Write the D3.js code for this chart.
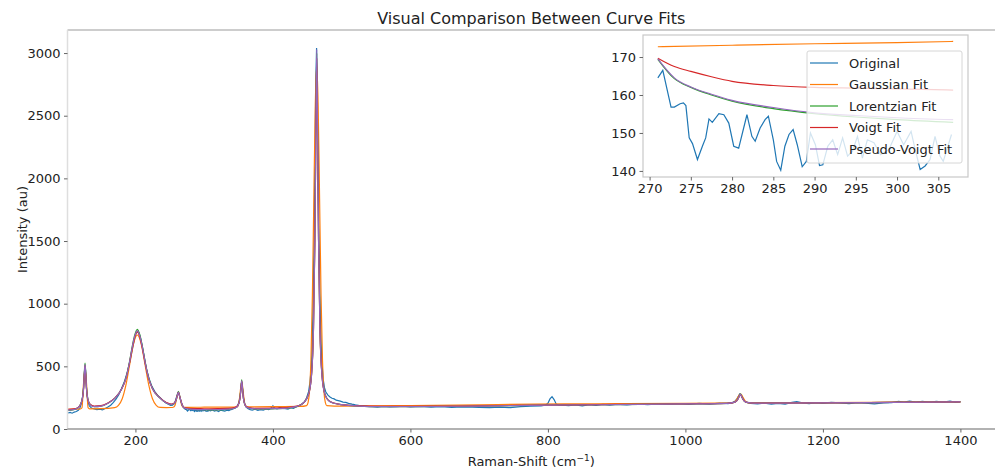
<!DOCTYPE html>
<html>
<head>
  <meta charset="utf-8">
  <style>
    body { margin: 0; background: #fff; }
    text { font-family: "DejaVu Sans", sans-serif; fill: #222; }
    .tick-label { font-size: 13px; }
    .axis-label { font-size: 13px; }
    .title { font-size: 16px; }
    .legend-text { font-size: 13px; }
  </style>
  <title>Visual Comparison Between Curve Fits</title>
</head>
<body>
<script src="https://cdn.jsdelivr.net/npm/d3@7"></script>
<script>
// ---- data ----
const seriesNames = ["Original", "Gaussian Fit", "Lorentzian Fit", "Voigt Fit", "Pseudo-Voigt Fit"];
const seriesColors = ["#1f77b4", "#ff7f0e", "#2ca02c", "#d62728", "#9467bd"];

const xTicks = [200, 400, 600, 800, 1000, 1200, 1400];
const yTicks = [0, 500, 1000, 1500, 2000, 2500, 3000];
const insetXTicks = [270, 275, 280, 285, 290, 295, 300, 305];
const insetYTicks = [140, 150, 160, 170];
const insetRange = [271, 306.8];

// measured spectrum [raman shift, intensity]
const original = [
  [102,128],[105,132],[108,126],[111,135],[114,140],[117,150],[119.5,172],[121.5,205],[123,250],[124.5,330],
  [125.5,430],[126.5,500],[127.5,470],[128.5,360],[129.5,270],[131,215],[133,185],[136,168],[140,160],[144,155],
  [148,158],[152,152],[156,163],[160,175],[164,190],[168,212],[172,240],[176,275],[180,325],[184,380],
  [188,450],[192,540],[196,650],[199,730],[201,765],[203,778],[205,770],[207,735],[210,660],[213,570],
  [216,480],[220,400],[224,340],[228,300],[232,270],[236,250],[240,228],[244,210],[248,198],[251,188],
  [254,190],[256,200],[258,222],[260,260],[261.5,285],[262.5,292],[263.5,280],[265,245],[267,205],[269,180],
  [271,164.5],[271.6,166.5],[272.6,156.8],[273,156.8],[273.7,157.7],[274.1,157.9],[274.4,157.2],[274.8,148.7],
  [275.2,147.2],[275.8,143],[276.4,146.5],[276.8,148.7],[277.2,153.7],[277.6,152.8],[278.4,155.1],[279,154.8],
  [279.6,152.6],[280.2,146.5],[280.8,146],[281.8,154.8],[282.4,149.1],[282.8,147.8],[283.4,151.3],[284,153.5],
  [284.4,154.4],[285,148.2],[285.4,142.5],[285.9,140.2],[286.4,146.5],[286.9,149.6],[287.4,150.9],[287.9,146.9],
  [288.5,141.1],[289,142.5],[289.5,150],[290.1,146.9],[290.6,141.4],[291,141.6],[291.6,146.5],[292.2,148.2],
  [292.8,144.3],[293.4,148.7],[294,143.9],[294.6,145.2],[295.2,149.1],[295.8,143.4],[296.4,148.2],[297.2,147.4],
  [298,144.3],[299,145.6],[300,150.4],[300.8,146.9],[301.7,150.4],[302.2,145.6],[302.8,140.4],[303.4,141.3],
  [304,143],[304.6,149.1],[305.2,143.9],[305.6,142.5],[306.6,149.6],
  [309,145],[312,152],[315,143],[318,148],[321,140],[324,151],[327,146],[330,142],[333,150],[336,147],
  [339,155],[342,160],[345,168],[348,182],[350,205],[352,250],[353.5,320],[354.5,375],[355.5,340],[357,260],
  [359,200],[361,175],[364,162],[367,155],[370,150],[374,158],[378,148],[382,155],[386,150],[390,160],
  [394,155],[398,170],[400,185],[402,168],[406,160],[410,172],[414,165],[418,163],[422,158],[426,170],
  [430,165],[434,178],[438,185],[442,200],[446,218],[449,250],[452,300],[454,380],[456,500],[458,900],
  [460,1600],[461.5,2300],[462.5,2800],[463.5,3040],[464.5,2750],[465.5,2200],[467,1500],[469,900],[471,560],[473,400],
  [475,330],[477,295],[480,270],[483,255],[486,245],[489,240],[492,230],[495,226],[498,222],[502,215],
  [506,212],[510,205],[515,198],[520,192],[526,186],[532,184],[538,180],[545,178],[552,175],[560,180],
  [570,176],[580,178],[590,182],[600,176],[615,180],[630,175],[645,178],[660,172],[675,176],[690,174],
  [700,172],[715,170],[730,175],[745,171],[760,178],[775,182],[790,185],[796,190],[800,205],[803,240],
  [806,258],[809,235],[812,200],[816,188],[822,190],[830,186],[840,192],[850,185],[860,195],[870,188],
  [880,196],[890,190],[900,198],[915,192],[930,200],[945,194],[960,201],[975,196],[990,203],[1005,197],
  [1020,205],[1035,199],[1050,206],[1062,203],[1068,210],[1072,222],[1075,240],[1077,262],[1079,280],[1081,270],
  [1083,245],[1086,222],[1090,210],[1095,205],[1105,200],[1115,207],[1125,199],[1135,204],[1145,198],[1155,212],
  [1162,218],[1170,208],[1180,203],[1190,210],[1200,205],[1212,212],[1225,208],[1238,203],[1250,210],[1262,206],
  [1275,201],[1288,208],[1300,211],[1310,220],[1318,214],[1326,222],[1335,215],[1345,221],[1355,213],[1365,220],
  [1375,214],[1385,222],[1393,212],[1400,219]
];

const gaussianFit = [
  [102,157],[112,159],[120,160],[122.3,170],[124.5,360],[126.7,480],[128.9,360],[131.1,170],[133.4,161],
  [150,162],[169.8,170],[175.3,189],[180.8,242],[186.3,354],[191.8,519],[197.3,681],[202.8,750],[208.3,681],
  [213.8,519],[219.3,354],[224.8,242],[230.3,189],[235.8,172],[245,171],[252,171.5],[255,173.3],[257.5,188],
  [260,244],[261.25,276],[262.5,290],[263.75,276],[265,244],[267.5,188],[270,173.3],[271,172.7],[280,173.1],
  [290,173.5],[300,173.8],[306.8,174.1],[320,174.5],[340,175],[348,177],[350.2,201],[352.4,293],[353.5,347],
  [354.6,370],[355.7,347],[356.8,293],[359,201],[361.2,177],[400,178],[440,180],[449,187],[451.1,211],
  [453.2,300],[455.3,548],[457.4,1064],[459.5,1831],[461.6,2580],[463.7,2900],[465.8,2580],[467.9,1831],
  [470,1064],[472.1,548],[474.2,300],[476.3,211],[478.4,187],[500,183],[600,187],[700,193],[780,199],
  [830,200],[900,202],[1000,205],[1060,207],[1068,209],[1072,217.5],[1076,250],[1078,270],[1080,278],
  [1082,270],[1084,250],[1088,217.5],[1092,209],[1200,211],[1300,214],[1400,217]
];

const lorentzianFit = [
  [102,149],[110,154],[116,168],[119.5,191],[122.7,245],[124.7,338],[125.7,450],[126.7,525],[127.7,450],
  [128.7,338],[130.7,245],[134,196],[140,178],[150,182],[160,205],[170,246],[180,322],[186,404],[191,526],
  [195,648],[199,750],[202.8,795],[206.5,750],[210.5,648],[214.5,526],[219.5,403],[225,321],[235,250],
  [245,207],[252,195],[256,202],[259,229],[261,271],[262.5,300],[264,271],[266,229],[268,192],[271,169.4],
  [273,164.3],[275,162],[277.5,160],[280,158.4],[285,156.4],[290,155.1],[295,154.2],[300,153.5],[306.8,152.8],
  [320,153],[335,157],[345,168],[349,186],[352,243],[353.6,335],[354.6,392],[355.6,335],[357.2,243],[360,186],
  [364,168],[375,159],[400,161],[420,166],[435,179],[445,210],[452,282],[456,425],[459,810],[461,1510],
  [462.7,2480],[463.7,3000],[464.7,2480],[466.4,1510],[468.4,810],[471.5,425],[475.5,282],[482.5,220],
  [495,198],[520,185],[560,178],[600,178],[700,183],[800,190],[900,195],[1000,200],[1060,205],[1072,215],
  [1076,236],[1078,260],[1080,281],[1082,260],[1084,236],[1088,215],[1100,207],[1200,208],[1300,212],[1400,216]
];

const voigtFit = [
  [102,157],[110,160],[116,170],[119.5,190],[122.7,238],[124.7,326],[125.7,432],[126.7,505],[127.7,432],
  [128.7,326],[130.7,238],[134,197],[140,182],[150,186],[160,208],[170,247],[180,320],[186,398],[191,515],
  [195,632],[199,730],[202.8,775],[206.5,730],[210.5,632],[214.5,515],[219.5,398],[225,320],[235,252],
  [245,212],[252,199],[256,205],[259,230],[261,268],[262.5,292],[264,268],[266,230],[268,194],[271,169.7],
  [273,167.5],[275,166.2],[277.5,164.8],[280,163.6],[285,162.5],[290,162],[295,161.8],[300,161.6],[306.8,161.3],
  [320,162],[335,164],[345,172],[349,188],[352,240],[353.6,326],[354.6,380],[355.6,326],[357.2,240],[360,188],
  [364,172],[375,165],[400,166],[420,170],[435,182],[445,211],[452,280],[456,418],[459,795],[461,1490],
  [462.7,2460],[463.7,2960],[464.7,2460],[466.4,1490],[468.4,795],[471.5,418],[475.5,280],[482.5,221],
  [495,199],[520,186],[560,180],[600,180],[700,185],[800,191],[900,196],[1000,201],[1060,205],[1072,215],
  [1076,234],[1078,256],[1080,275],[1082,256],[1084,234],[1088,215],[1100,207],[1200,208],[1300,212],[1400,216]
];

const pseudoVoigtFit = [
  [102,150],[110,155],[116,168],[119.5,190],[122.7,241],[124.7,332],[125.7,442],[126.7,515],[127.7,442],
  [128.7,332],[130.7,241],[134,195],[140,178],[150,182],[160,205],[170,245],[180,320],[186,400],[191,520],
  [195,640],[199,740],[202.8,785],[206.5,740],[210.5,640],[214.5,520],[219.5,400],[225,320],[235,250],
  [245,208],[252,196],[256,202],[259,228],[261,268],[262.5,295],[264,268],[266,228],[268,192],[271,169.5],
  [273,164.5],[275,162.1],[277.5,160.2],[280,158.6],[285,156.7],[290,155.3],[295,154.6],[300,154],[306.8,153.5],
  [320,154],[335,158],[345,168],[349,185],[352,240],[353.6,330],[354.6,385],[355.6,330],[357.2,240],[360,185],
  [364,168],[375,160],[400,162],[420,167],[435,180],[445,210],[452,280],[456,420],[459,800],[461,1500],
  [462.7,2500],[463.7,3030],[464.7,2500],[466.4,1500],[468.4,800],[471.5,420],[475.5,280],[482.5,220],
  [495,198],[520,185],[560,178],[600,178],[700,183],[800,190],[900,195],[1000,200],[1060,205],[1072,215],
  [1076,235],[1078,258],[1080,278],[1082,258],[1084,235],[1088,215],[1100,207],[1200,208],[1300,212],[1400,216]
];

const allSeries = [original, gaussianFit, lorentzianFit, voigtFit, pseudoVoigtFit];

// ---- layout ----
const W = 995, H = 469;
const main = { left: 67.5, right: 1000, top: 30, bottom: 429 };
const inset = { left: 643, right: 968, top: 35, bottom: 177 };

const svg = d3.select("body").append("svg")
  .attr("width", W)
  .attr("height", H);

// main scales
const x = d3.scaleLinear().domain([101.2, 1457.6]).range([main.left, main.right]);
const y = d3.scaleLinear().domain([0, 3184]).range([main.bottom, main.top]);

svg.append("clipPath").attr("id", "mainClip")
  .append("rect")
  .attr("x", main.left).attr("y", main.top)
  .attr("width", main.right - main.left).attr("height", main.bottom - main.top);

const plot = svg.append("g").attr("clip-path", "url(#mainClip)");

const lineMain = d3.line().x(d => x(d[0])).y(d => y(d[1]));
const lineMainSmooth = d3.line().x(d => x(d[0])).y(d => y(d[1])).curve(d3.curveMonotoneX);

allSeries.forEach((s, i) => {
  plot.append("path")
    .datum(s)
    .attr("fill", "none")
    .attr("stroke", seriesColors[i])
    .attr("stroke-width", 1.2)
    .attr("d", i === 0 ? lineMain(s) : lineMainSmooth(s));
});

// spines
svg.append("line").attr("x1", main.left).attr("x2", main.right).attr("y1", main.top).attr("y2", main.top)
  .attr("stroke", "#bdbdbd").attr("stroke-width", 1.5);
svg.append("line").attr("x1", main.left).attr("x2", main.left).attr("y1", main.top).attr("y2", main.bottom)
  .attr("stroke", "#dedede").attr("stroke-width", 1.5);
svg.append("line").attr("x1", main.left).attr("x2", main.right).attr("y1", main.bottom).attr("y2", main.bottom)
  .attr("stroke", "#999").attr("stroke-width", 1.5);

// x axis
const xAxis = svg.append("g").attr("transform", `translate(0,${main.bottom})`)
  .call(d3.axisBottom(x).tickValues(xTicks).tickSize(3.5).tickPadding(3.5).tickFormat(d3.format("d")));
xAxis.select(".domain").remove();
xAxis.selectAll(".tick line").attr("stroke", "#666");
xAxis.selectAll(".tick text").attr("class", "tick-label").style("font-size", "13px")
  .style("font-family", "DejaVu Sans").attr("fill", "#222");

// y axis
const yAxis = svg.append("g").attr("transform", `translate(${main.left},0)`)
  .call(d3.axisLeft(y).tickValues(yTicks).tickSize(3.5).tickPadding(3.5).tickFormat(d3.format("d")));
yAxis.select(".domain").remove();
yAxis.selectAll(".tick line").attr("stroke", "#666");
yAxis.selectAll(".tick text").style("font-size", "13px")
  .style("font-family", "DejaVu Sans").attr("fill", "#222");

// axis labels
const xLabel = svg.append("text")
  .attr("class", "axis-label")
  .attr("x", (main.left + 995) / 2)
  .attr("y", 466)
  .attr("text-anchor", "middle");
xLabel.append("tspan").text("Raman-Shift (cm");
xLabel.append("tspan").attr("dy", -5).style("font-size", "9px").text("\u22121");
xLabel.append("tspan").attr("dy", 5).text(")");

svg.append("text")
  .attr("class", "axis-label")
  .attr("transform", `translate(22,${(main.top + main.bottom) / 2}) rotate(-90)`)
  .attr("text-anchor", "middle")
  .attr("dy", "0.35em")
  .text("Intensity (au)");

// title
svg.append("text")
  .attr("class", "title")
  .attr("x", (main.left + 995) / 2)
  .attr("y", 24)
  .attr("text-anchor", "middle")
  .text("Visual Comparison Between Curve Fits");

// ---- inset ----
const xi = d3.scaleLinear().domain([269.2, 308.6]).range([inset.left, inset.right]);
const yi = d3.scaleLinear().domain([138.4, 175.8]).range([inset.bottom, inset.top]);

svg.append("rect")
  .attr("x", inset.left).attr("y", inset.top)
  .attr("width", inset.right - inset.left).attr("height", inset.bottom - inset.top)
  .attr("fill", "#fff");

svg.append("clipPath").attr("id", "insetClip")
  .append("rect")
  .attr("x", inset.left).attr("y", inset.top)
  .attr("width", inset.right - inset.left).attr("height", inset.bottom - inset.top);

const insetPlot = svg.append("g").attr("clip-path", "url(#insetClip)");
const lineInset = d3.line().x(d => xi(d[0])).y(d => yi(d[1]));
const lineInsetSmooth = d3.line().x(d => xi(d[0])).y(d => yi(d[1])).curve(d3.curveMonotoneX);

allSeries.forEach((s, i) => {
  const part = s.filter(d => d[0] >= insetRange[0] && d[0] <= insetRange[1]);
  insetPlot.append("path")
    .attr("fill", "none")
    .attr("stroke", seriesColors[i])
    .attr("stroke-width", 1.2)
    .attr("d", i === 0 ? lineInset(part) : lineInsetSmooth(part));
});

svg.append("rect")
  .attr("x", inset.left).attr("y", inset.top)
  .attr("width", inset.right - inset.left).attr("height", inset.bottom - inset.top)
  .attr("fill", "none").attr("stroke", "#c8c8c8").attr("stroke-width", 1.2);

const xiAxis = svg.append("g").attr("transform", `translate(0,${inset.bottom})`)
  .call(d3.axisBottom(xi).tickValues(insetXTicks).tickSize(3.5).tickPadding(3.5));
xiAxis.select(".domain").remove();
xiAxis.selectAll(".tick line").attr("stroke", "#666");
xiAxis.selectAll(".tick text").style("font-size", "13px")
  .style("font-family", "DejaVu Sans").attr("fill", "#222");

const yiAxis = svg.append("g").attr("transform", `translate(${inset.left},0)`)
  .call(d3.axisLeft(yi).tickValues(insetYTicks).tickSize(3.5).tickPadding(3.5));
yiAxis.select(".domain").remove();
yiAxis.selectAll(".tick line").attr("stroke", "#666");
yiAxis.selectAll(".tick text").style("font-size", "13px")
  .style("font-family", "DejaVu Sans").attr("fill", "#222");

// legend
const legend = svg.append("g");
legend.append("rect")
  .attr("x", 807).attr("y", 51).attr("width", 155).attr("height", 112)
  .attr("rx", 2).attr("ry", 2)
  .attr("fill", "#fff").attr("fill-opacity", 0.8)
  .attr("stroke", "#d6d6d6").attr("stroke-width", 1);

const legendY = d3.scalePoint().domain(seriesNames).range([63, 149]);
seriesNames.forEach((name, i) => {
  legend.append("line")
    .attr("x1", 810).attr("x2", 838)
    .attr("y1", legendY(name)).attr("y2", legendY(name))
    .attr("stroke", seriesColors[i]).attr("stroke-width", 1.2);
  legend.append("text")
    .attr("class", "legend-text")
    .attr("x", 849).attr("y", legendY(name))
    .attr("dy", "0.35em")
    .text(name);
});
</script>
</body>
</html>
